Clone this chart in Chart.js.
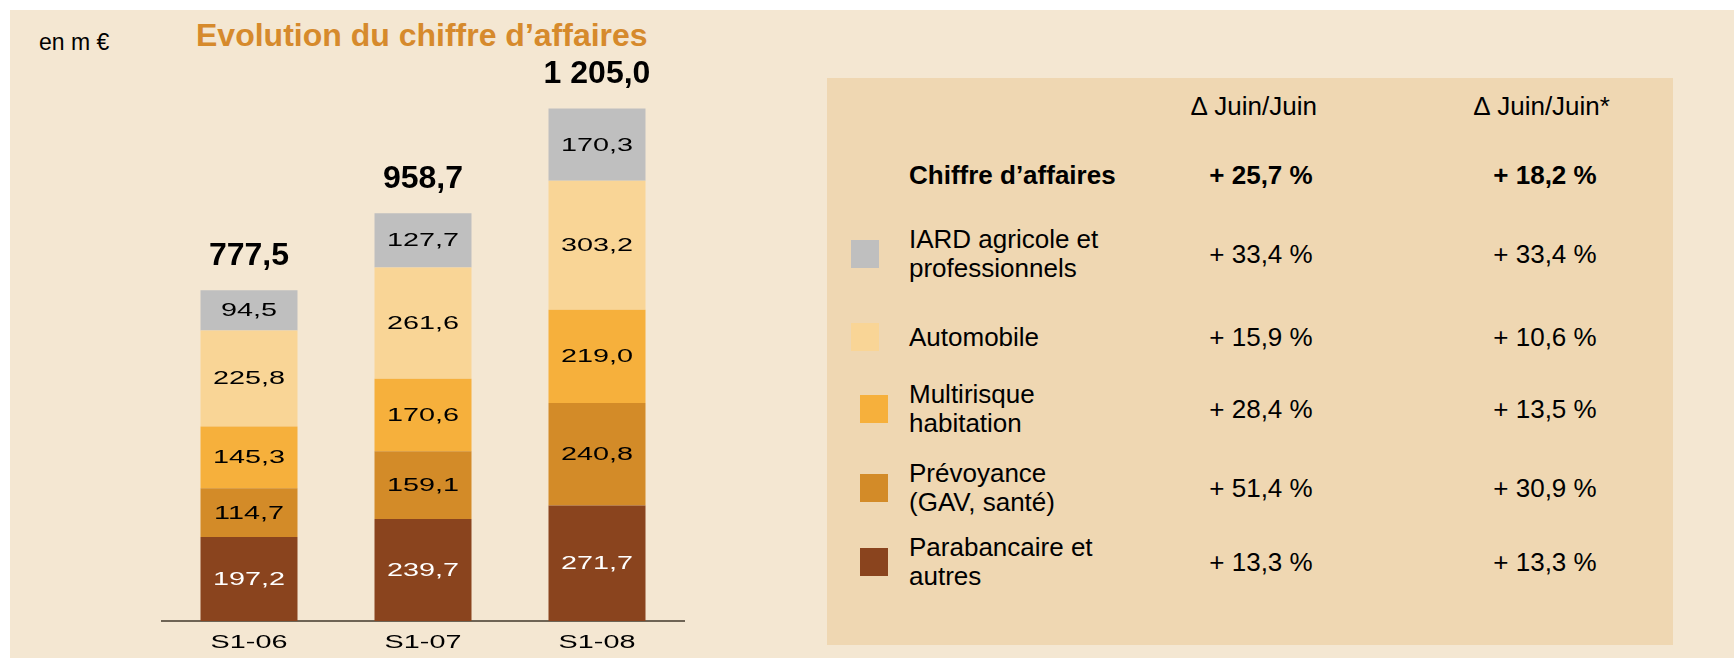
<!DOCTYPE html>
<html>
<head>
<meta charset="utf-8">
<script src="https://cdn.jsdelivr.net/npm/chart.js@4.4.1/dist/chart.umd.min.js"></script>
<style>
  body { margin: 0; background: #fff; font-family: "Liberation Sans", Arial, sans-serif; }
  #page { position: relative; width: 1734px; height: 658px; overflow: hidden; }
  #bg { position: absolute; left: 10px; top: 10px; right: 0; bottom: 0; background: #F4E7D2; }
  #chart { position: absolute; left: 0; top: 0; }
  .txt { position: absolute; line-height: 1; white-space: nowrap; color: #000; }
  #panel { position: absolute; left: 827px; top: 78px; width: 846px; height: 567px; background: #EFD7B2; }
  .row { position: absolute; left: 0; width: 1734px; height: 0; }
  .sq { position: absolute; width: 28px; height: 28px; top: -14px; }
  .lab { position: absolute; left: 909px; width: 210px; font-size: 26px; line-height: 29px; white-space: normal; transform: translateY(-50%); top: 0; }
  .val { position: absolute; width: 200px; text-align: center; font-size: 26px; line-height: 29px; transform: translateY(-50%); top: 0; white-space: nowrap; }
  .bold { font-weight: bold; }
</style>
</head>
<body>
<div id="page">
  <div id="bg"></div>
  <div id="panel"></div>
  <div class="txt" style="left:39px; top:31px; font-size:23px;">en m €</div>
  <div class="txt" style="left:196px; top:19px; font-size:32px; font-weight:bold; color:#D68A2C;">Evolution du chiffre d’affaires</div>
  <canvas id="chart" width="820" height="658"></canvas>
  <div id="table"></div>
</div>
<script>
const categories = ["S1-06", "S1-07", "S1-08"];
const parabancaire = [197.2, 239.7, 271.7];
const prevoyance = [114.7, 159.1, 240.8];
const multirisque = [145.3, 170.6, 219.0];
const automobile = [225.8, 261.6, 303.2];
const iard = [94.5, 127.7, 170.3];
const totals = [777.5, 958.7, 1205.0];

// stacking order, bottom to top
const seriesNames = ["Parabancaire et autres", "Prévoyance (GAV, santé)", "Multirisque habitation", "Automobile", "IARD agricole et professionnels"];
const seriesColors = ["#8A441E", "#D38B28", "#F6B03C", "#F9D596", "#BFBFBF"];
const labelColors = ["#fff", "#000", "#000", "#000", "#000"];

const columnHeads = ["∆ Juin/Juin", "∆ Juin/Juin*"];
const totalName = "Chiffre d’affaires";
const totalDelta = [25.7, 18.2];
const deltaJuin = [13.3, 51.4, 28.4, 15.9, 33.4];
const deltaJuinStar = [13.3, 30.9, 13.5, 10.6, 33.4];

function fmt(v) {
  let s = v.toFixed(1).split(".");
  let int = s[0].replace(/\B(?=(\d{3})+(?!\d))/g, " ");
  return int + "," + s[1];
}
function pct(v) { return "+ " + fmt(v) + " %"; }

// the source uses a stretched, wide type for the bar numbers
function wideText(ctx, txt, x, y, color) {
  ctx.save();
  ctx.translate(x, y);
  ctx.scale(1.6, 1);
  ctx.font = '18px "Liberation Sans", Arial';
  ctx.textAlign = "center";
  ctx.textBaseline = "middle";
  ctx.fillStyle = color;
  ctx.fillText(txt, 0, 0);
  ctx.restore();
}

const labelsPlugin = {
  id: "labels",
  afterDatasetsDraw(chart) {
    const ctx = chart.ctx;
    chart.data.datasets.forEach((ds, i) => {
      chart.getDatasetMeta(i).data.forEach((bar, j) => {
        wideText(ctx, fmt(ds.data[j]), bar.x, (bar.y + bar.base) / 2 + 1, labelColors[i]);
      });
    });
    const xs = chart.scales.x, ys = chart.scales.y;
    totals.forEach((t, j) => {
      ctx.save();
      ctx.font = 'bold 32px "Liberation Sans", Arial';
      ctx.textAlign = "center";
      ctx.textBaseline = "middle";
      ctx.fillStyle = "#000";
      ctx.fillText(fmt(t), xs.getPixelForValue(j), ys.getPixelForValue(t) - 34);
      ctx.restore();
    });
    categories.forEach((c, j) => {
      wideText(ctx, c, xs.getPixelForValue(j), chart.chartArea.bottom + 22, "#000");
    });
  }
};

const datasets = [parabancaire, prevoyance, multirisque, automobile, iard].map((d, i) => ({
  label: seriesNames[i],
  data: d,
  backgroundColor: seriesColors[i],
  borderWidth: 0,
  barPercentage: 0.5575,
  categoryPercentage: 1
}));

new Chart(document.getElementById("chart"), {
  type: "bar",
  data: { labels: categories, datasets: datasets },
  options: {
    responsive: false,
    animation: false,
    layout: { padding: { left: 162, right: 136, top: 68, bottom: 29 } },
    plugins: { legend: { display: false }, tooltip: { enabled: false } },
    scales: {
      x: {
        stacked: true,
        grid: { display: false },
        ticks: { display: false },
        border: { display: true, color: "#6E6455", width: 2 }
      },
      y: { stacked: true, display: false, min: 0, max: 1300 }
    }
  },
  plugins: [labelsPlugin]
});

// table
const table = document.getElementById("table");
function addRow(y, html) {
  const r = document.createElement("div");
  r.className = "row";
  r.style.top = y + "px";
  r.innerHTML = html;
  table.appendChild(r);
}
addRow(106, `<div class="val" style="left:1154px">${columnHeads[0]}</div><div class="val" style="left:1442px">${columnHeads[1]}</div>`);
addRow(175, `<div class="lab bold" style="width:260px">${totalName}</div>
  <div class="val bold" style="left:1161px">${pct(totalDelta[0])}</div>
  <div class="val bold" style="left:1445px">${pct(totalDelta[1])}</div>`);

const rowY = [254, 337, 409, 488, 562];
const sqX = [851, 851, 860, 860, 860];
for (let k = 0; k < 5; k++) {
  const i = 4 - k;
  addRow(rowY[k], `<div class="sq" style="left:${sqX[k]}px; background:${seriesColors[i]}"></div>
    <div class="lab">${seriesNames[i]}</div>
    <div class="val" style="left:1161px">${pct(deltaJuin[i])}</div>
    <div class="val" style="left:1445px">${pct(deltaJuinStar[i])}</div>`);
}
</script>
</body>
</html>
